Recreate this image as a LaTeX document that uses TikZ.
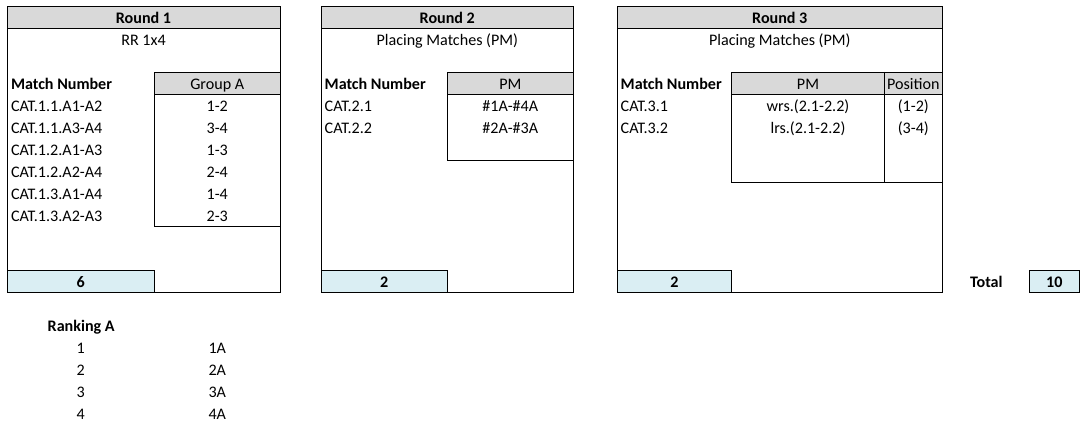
\documentclass[tikz,border=0pt]{standalone}
\usepackage{fontspec}
\setmainfont{Carlito}
\definecolor{hdr}{HTML}{D9D9D9}
\definecolor{tot}{HTML}{DAEEF3}
\newcommand\cellfont{\fontsize{16.1pt}{19pt}\selectfont}
\tikzset{
  every node/.style={inner sep=0pt, outer sep=0pt, font=\cellfont},
  frame/.style={draw=black, line width=0.9pt},
  hcell/.style={fill=hdr},
  bcell/.style={fill=tot, draw=black, line width=0.9pt},
  lt/.style={anchor=base west},
  ct/.style={anchor=base},
  bt/.style={anchor=base, font=\cellfont\bfseries},
  blt/.style={anchor=base west, font=\cellfont\bfseries}
}
\begin{document}
\begin{tikzpicture}[x=1pt,y=-1pt]
\useasboundingbox (0,0) rectangle (1086,425);
% ---------- Round 1 ----------
\fill[hcell] (7,6) rectangle (280,28.7);
\fill[hcell] (154.5,72) rectangle (280,94.5);
\draw[frame] (7,6) rectangle (280,292);
\draw[frame] (7,28.7) -- (280,28.7);
\draw[frame] (154.5,72) rectangle (280,226.5);
\draw[frame] (154.5,94.5) -- (280,94.5);
\draw[bcell] (7,270.5) rectangle (154.5,292);
\node[bt] (r1h) at (143.5,23.7) {Round 1};
\node[ct] (r1s) at (143.5,45.7) {RR 1x4};
\node[blt] (r1m) at (11,89.3) {Match Number};
\node[ct] (r1g) at (217.25,89.3) {Group A};
\foreach \t/\p [count=\i] in {CAT.1.1.A1-A2/1-2, CAT.1.1.A3-A4/3-4, CAT.1.2.A1-A3/1-3, CAT.1.2.A2-A4/2-4, CAT.1.3.A1-A4/1-4, CAT.1.3.A2-A3/2-3}{
  \node[lt] (r1m\i) at (11,89.3+22*\i) {\t};
  \node[ct] (r1p\i) at (217.25,89.3+22*\i) {\p};
}
\node[bt] (r1n) at (80.75,287) {6};
% ---------- Round 2 ----------
\fill[hcell] (321.3,6) rectangle (573.3,28.7);
\fill[hcell] (447.3,72) rectangle (573.3,94.5);
\draw[frame] (321.3,6) rectangle (573.3,292);
\draw[frame] (321.3,28.7) -- (573.3,28.7);
\draw[frame] (447.3,72) rectangle (573.3,160.5);
\draw[frame] (447.3,94.5) -- (573.3,94.5);
\draw[bcell] (321.3,270.5) rectangle (447.3,292);
\node[bt] (r2h) at (447.3,23.7) {Round 2};
\node[ct] (r2s) at (447.3,45.7) {Placing Matches (PM)};
\node[blt] (r2m) at (324.7,89.3) {Match Number};
\node[ct] (r2g) at (510.3,89.3) {PM};
\node[lt] (r2m1) at (324.7,111.3) {CAT.2.1};
\node[lt] (r2m2) at (324.7,133.3) {CAT.2.2};
\node[ct] (r2p1) at (510.3,111.3) {\#1A-\#4A};
\node[ct] (r2p2) at (510.3,133.3) {\#2A-\#3A};
\node[bt] (r2n) at (384.3,287) {2};
% ---------- Round 3 ----------
\fill[hcell] (617.3,6) rectangle (942.3,28.7);
\fill[hcell] (731.7,72) rectangle (942.3,94.5);
\draw[frame] (617.3,6) rectangle (942.3,292);
\draw[frame] (617.3,28.7) -- (942.3,28.7);
\draw[frame] (731.7,72) rectangle (942.3,182.3);
\draw[frame] (731.7,94.5) -- (942.3,94.5);
\draw[frame] (884.3,72) -- (884.3,182.3);
\draw[bcell] (617.3,270.5) rectangle (731.7,292);
\node[bt] (r3h) at (779.8,23.7) {Round 3};
\node[ct] (r3s) at (779.8,45.7) {Placing Matches (PM)};
\node[blt] (r3m) at (620.7,89.3) {Match Number};
\node[ct] (r3g) at (808,89.3) {PM};
\node[ct] (r3q) at (913.3,89.3) {Position};
\node[lt] (r3m1) at (620.7,111.3) {CAT.3.1};
\node[lt] (r3m2) at (620.7,133.3) {CAT.3.2};
\node[ct] (r3p1) at (808,111.3) {wrs.(2.1-2.2)};
\node[ct] (r3p2) at (808,133.3) {lrs.(2.1-2.2)};
\node[ct] (r3q1) at (913.3,111.3) {(1-2)};
\node[ct] (r3q2) at (913.3,133.3) {(3-4)};
\node[bt] (r3n) at (674.5,287) {2};
% ---------- Total ----------
\node[bt] (totl) at (986.3,287) {Total};
\draw[bcell] (1029.3,270.5) rectangle (1079.3,292);
\node[bt] (totn) at (1054.3,287) {10};
% ---------- Ranking ----------
\node[blt] (rk) at (47.7,331.5) {Ranking A};
\foreach \i in {1,2,3,4}{
  \node[ct] (rkn\i) at (80.75,331.5+22*\i) {\i};
  \node[ct] (rka\i) at (217.25,331.5+22*\i) {\i A};
}
\end{tikzpicture}
\end{document}
